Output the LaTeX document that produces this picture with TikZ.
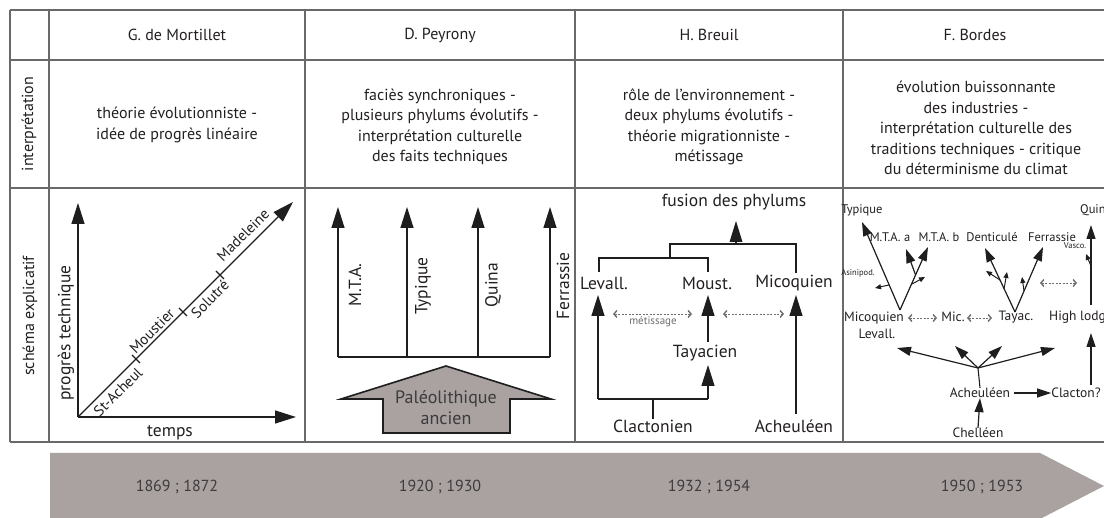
\documentclass[tikz,border=0pt]{standalone}
\usepackage{fontspec}
\setmainfont{PT Sans}
\usetikzlibrary{arrows.meta}
\definecolor{tline}{RGB}{105,105,105}
\definecolor{ink}{RGB}{30,30,30}
\definecolor{bar}{RGB}{170,161,161}
\definecolor{txt}{RGB}{35,31,32}
\definecolor{datec}{RGB}{60,60,60}
\definecolor{dashc}{RGB}{110,110,110}
\begin{document}
\begin{tikzpicture}[x=1pt,y=-1pt,
  every node/.style={inner sep=0pt, text=txt},
  f18/.style={font=\fontsize{18}{21}\selectfont},
  f17/.style={font=\fontsize{17.5}{20}\selectfont},
  f16/.style={font=\fontsize{16}{20.5}\selectfont},
  f15/.style={font=\fontsize{15}{17}\selectfont},
  f14/.style={font=\fontsize{13.5}{16}\selectfont},
  f13/.style={font=\fontsize{12.5}{15}\selectfont},
  f11/.style={font=\fontsize{11}{12}\selectfont},
  f8/.style={font=\fontsize{8.5}{9}\selectfont},
  grid/.style={draw=tline, line width=1.8pt},
  thin/.style={draw=ink, line width=1.1pt},
  thick/.style={draw=ink, line width=2.6pt},
  bigarr/.style={draw=ink, line width=1.2pt, -{Triangle[length=21pt,width=13pt]}},
  thickarr/.style={draw=ink, line width=2.6pt, -{Triangle[length=21pt,width=13pt,line width=0pt]}},
  midarr/.style={draw=ink, line width=1.2pt, -{Triangle[length=14pt,width=9pt]}},
  twig/.style={draw=ink, line width=1pt, -{Triangle[length=6pt,width=5pt]}},
  dbl/.style={draw=dashc, line width=0.9pt, dash pattern=on 2pt off 1.5pt,
    {Straight Barb[length=3pt,width=7pt,line width=1.4pt]}-{Straight Barb[length=3pt,width=7pt,line width=1.4pt]}},
]
\useasboundingbox (0,0) rectangle (1104,518);
\clip (0,0) rectangle (1104,518);

% timeline
\fill[bar] (50,453) -- (1040,453) -- (1104,486) -- (1040,519) -- (50,519) -- cycle;
\node[f16, text=datec] (d1) at (177,487) {1869 ; 1872};
\node[f16, text=datec] (d2) at (440,487) {1920 ; 1930};
\node[f16, text=datec] (d3) at (709,487) {1932 ; 1954};
\node[f16, text=datec] (d4) at (982,487) {1950 ; 1953};

% table grid
\foreach \y in {10,60,188,442} \draw[grid] (10,\y) -- (1110,\y);
\foreach \x in {10,49,305,575,843} \draw[grid] (\x,10) -- (\x,442);

% headers
\node[f16] (h1) at (177,35) {G. de Mortillet};
\node[f16] (h2) at (440,35) {D. Peyrony};
\node[f16] (h3) at (709,35) {H. Breuil};
\node[f16] (h4) at (975,35) {F. Bordes};
\node[f16, rotate=90] (r1) at (29,124) {interprétation};
\node[f16, rotate=90] (r2) at (30,316) {schéma explicatif};

% interpretations
\node[f16, align=center] (i1) at (177,125) {théorie évolutionniste -\\idée de progrès linéaire};
\node[f16, align=center] (i2) at (440,127) {faciès synchroniques -\\plusieurs phylums évolutifs -\\interprétation culturelle\\des faits techniques};
\node[f16, align=center] (i3) at (709,127) {rôle de l’environnement -\\deux phylums évolutifs -\\théorie migrationniste -\\métissage};
\node[f16, align=center] (i4) at (976,128) {évolution buissonnante\\des industries -\\interprétation culturelle des\\traditions techniques - critique\\du déterminisme du climat};

% ---- Mortillet
\coordinate (O) at (78,417);
\coordinate (Ytip) at (78,203);
\coordinate (Xtip) at (296,417);
\coordinate (Dtip) at (293,202);
\draw[bigarr] (O) -- (Ytip);
\draw[bigarr] (O) -- (Xtip);
\draw[bigarr] (O) -- (Dtip);
\draw[thin] (132,355) -- (140,363);
\draw[thin] (179,308) -- (187,316);
\draw[thin] (216,271) -- (224,279);
\node[f17, rotate=90] (pt) at (66,333) {progrès technique};
\node[f17] (tp) at (170,433) {temps};
\node[f15, rotate=45] (sa) at (118,392) {St-Acheul};
\node[f15, rotate=45] (mo) at (152,331) {Moustier};
\node[f15, rotate=45] (so) at (210,299) {Solutré};
\node[f15, rotate=45] (ma) at (243,235) {Madeleine};

% ---- Peyrony
\foreach \x/\n in {338/a,407/b,478/c,550/d} {
  \coordinate (p\n) at (\x,357);
  \draw[bigarr] (p\n) -- (\x,207);
}
\draw[thin] (pa) -- (pd);
\node[f17, rotate=90] (mta) at (355,285) {M.T.A.};
\node[f17, rotate=90] (typ) at (423,286) {Typique};
\node[f17, rotate=90] (qui) at (493,285) {Quina};
\node[f17, rotate=90] (fer) at (563,286) {Ferrassie};
\draw[draw=ink, fill=bar, line width=1.6pt, line join=miter]
  (446,366) -- (551,399) -- (510,399) -- (510,433) -- (383,433) -- (383,399) -- (341,399) -- cycle;
\node[f18, align=center, text=datec] (pal) at (446,408) {Paléolithique\\ancien};

% ---- Breuil
\node[f17] (lev) at (604,283) {Levall.};
\node[f17] (mou) at (707,283) {Moust.};
\node[f17] (mic) at (794,283) {Micoquien};
\node[f17] (tay) at (705,353) {Tayacien};
\node[f17] (cla) at (653,426) {Clactonien};
\node[f17] (ach) at (794,426) {Acheuléen};
\node[f17] (fus) at (734,202) {fusion des phylums};
\coordinate (bl) at (598,399);
\coordinate (br) at (708,399);
\draw[bigarr] (bl) -- (598,295);
\draw[thin] (bl) -- (br);
\draw[thin] (653,399) -- (cla.north);
\draw[bigarr] (br) -- (708,365);
\draw[bigarr] (708,342) -- (708,295);
\draw[bigarr] (796,414) -- (796,295);
\draw[thin] (599,272) -- (599,258) -- (708,258) -- (708,272);
\draw[thick] (670,258) -- (670,244) -- (796,244) -- (796,273);
\draw[thickarr] (736,245) -- (736,221);
\draw[dbl] (613,314) -- (692,314);
\draw[dbl] (723,314) -- (784,314);
\node[f11, text=dashc] (met) at (653,322) {métissage};

% ---- Bordes
\node[f13] (bty) at (862,210) {Typique};
\node[f13] (bma) at (890,237) {M.T.A. a};
\node[f13] (bmb) at (939,237) {M.T.A. b};
\node[f13] (bde) at (992,237) {Denticulé};
\node[f13] (bfe) at (1052,237) {Ferrassie};
\node[f13, anchor=west] (bqu) at (1080,210) {Quina};
\node[f8] (bva) at (1075,246) {Vasco.};
\node[f8] (bas) at (858,273) {Asinipod.};
\node[f14] (bmi) at (874,318) {Micoquien};
\node[f14] (ble) at (877,334) {Levall.};
\node[f14] (bmc) at (953,317) {Mic.};
\node[f14] (bta) at (1016,317) {Tayac.};
\node[f14, anchor=west] (bhl) at (1049,317) {High lodge};
\node[f14] (bac) at (980,393) {Acheuléen};
\node[f14] (bcl) at (1076,393) {Clacton?};
\node[f14] (bch) at (978,433) {Chelléen};
\coordinate (A1) at (900,310);
\coordinate (A2) at (1015,312);
\draw[midarr] (A1) -- (862,222);
\draw[midarr] (A1) -- (928,247);
\draw[midarr] (915.6,275) -- (906,249);
\draw[twig] (889,285) -- (875,288);
\draw[twig] (912,284) -- (925,277);
\draw[midarr] (A2) -- (985,248);
\draw[midarr] (A2) -- (1043,247);
\draw[twig] (1000,280) -- (986,271);
\draw[twig] (1004,289) -- (1007,272);
\draw[twig] (1024,291) -- (1022,277);
\draw[midarr] (1091,305) -- (1091,225);
\draw[twig] (1091,266) -- (1086,254);
\draw[dbl] (1040,283) -- (1077,283);
\draw[dbl] (908,318) -- (937,318);
\draw[dbl] (967,318) -- (992,318);
\coordinate (F) at (978,368);
\draw[midarr] (F) -- (897,348);
\draw[midarr] (F) -- (955,346);
\draw[midarr] (F) -- (1002,346);
\draw[midarr] (F) -- (1055,348);
\draw[thin] (F) -- (bac.north);
\draw[midarr] (bac.east) ++(4,0) -- (bcl.west);
\draw[midarr] (1091,385) -- (1091,333);
\draw[midarr] (bch.north) -- (bac.south);
\end{tikzpicture}
\end{document}
